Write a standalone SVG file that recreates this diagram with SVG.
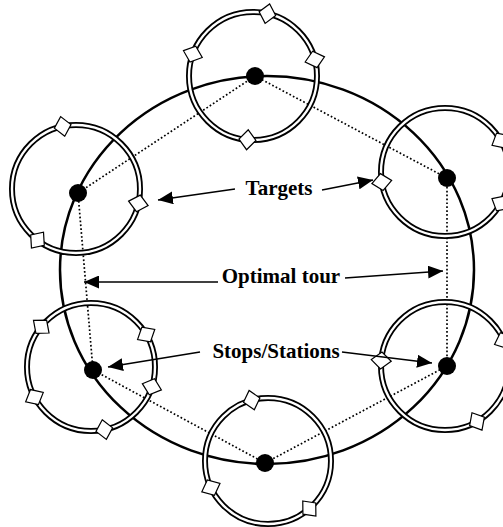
<svg xmlns="http://www.w3.org/2000/svg" width="503" height="527" viewBox="0 0 503 527">
<style>
.tour{fill:none;stroke:#000;stroke-width:2.5}
.hop{fill:none;stroke:#000;stroke-width:1.7;stroke-dasharray:1.7 2.2}
.arr{fill:none;stroke:#000;stroke-width:1.5}
.ringo{fill:none;stroke:#000;stroke-width:6}
.ringi{fill:none;stroke:#fff;stroke-width:2.4}
.dot{fill:#000}
.dia{fill:#fff;stroke:#000;stroke-width:1.2}
.lbl{font-family:"Liberation Serif","Times New Roman",serif;font-weight:bold;font-size:21px;fill:#000;text-anchor:middle}
</style>
<defs>
<marker id="ah" markerUnits="userSpaceOnUse" markerWidth="16" markerHeight="13" refX="15" refY="6.5" orient="auto">
<path d="M0,0 L15,6.5 L0,13 z" fill="#000"/>
</marker>
<polygon id="d" class="dia" points="-10,0 0,-8.5 10,0 0,8.5"/>
</defs>
<rect width="503" height="527" fill="#fff"/>
<g id="connectors">
<ellipse class="tour" cx="267" cy="270" rx="207" ry="194"/>
<polygon class="hop" points="255,76 447,178 447,366 265,463 93,370 78,193"/>
</g>
<g id="n-top">
<circle class="ringo" cx="253" cy="76" r="64"/><circle class="ringi" cx="253" cy="76" r="64"/>
<use href="#d" transform="translate(253,76) rotate(-77) translate(64,0)"/>
<use href="#d" transform="translate(253,76) rotate(-160) translate(64,0)"/>
<use href="#d" transform="translate(253,76) rotate(-15) translate(64,0)"/>
<use href="#d" transform="translate(253,76) rotate(95) translate(64,0)"/>
<circle class="dot" cx="255" cy="76" r="9"/>
</g>
<g id="n-left">
<circle class="ringo" cx="76" cy="189" r="64"/><circle class="ringi" cx="76" cy="189" r="64"/>
<use href="#d" transform="translate(76,189) rotate(-102) translate(64,0)"/>
<use href="#d" transform="translate(76,189) rotate(13) translate(64,0)"/>
<use href="#d" transform="translate(76,189) rotate(127) translate(64,0)"/>
<circle class="dot" cx="78" cy="193" r="9"/>
</g>
<g id="n-right">
<circle class="ringo" cx="445" cy="172" r="64"/><circle class="ringi" cx="445" cy="172" r="64"/>
<use href="#d" transform="translate(445,172) rotate(-29.5) translate(64,0)"/>
<use href="#d" transform="translate(445,172) rotate(29.5) translate(64,0)"/>
<use href="#d" transform="translate(445,172) rotate(171) translate(64,0)"/>
<circle class="dot" cx="447" cy="178" r="9"/>
</g>
<g id="n-lowleft">
<circle class="ringo" cx="91" cy="367" r="64"/><circle class="ringi" cx="91" cy="367" r="64"/>
<use href="#d" transform="translate(91,367) rotate(-141) translate(64,0)"/>
<use href="#d" transform="translate(91,367) rotate(-30.5) translate(64,0)"/>
<use href="#d" transform="translate(91,367) rotate(18) translate(64,0)"/>
<use href="#d" transform="translate(91,367) rotate(152) translate(64,0)"/>
<use href="#d" transform="translate(91,367) rotate(78) translate(64,0)"/>
<circle class="dot" cx="93" cy="370" r="9"/>
</g>
<g id="n-lowright">
<circle class="ringo" cx="445" cy="366" r="64"/><circle class="ringi" cx="445" cy="366" r="64"/>
<use href="#d" transform="translate(445,366) rotate(-23.5) translate(64,0)"/>
<use href="#d" transform="translate(445,366) rotate(-175) translate(64,0)"/>
<use href="#d" transform="translate(445,366) rotate(60) translate(64,0)"/>
<circle class="dot" cx="447" cy="366" r="9"/>
</g>
<g id="n-bottom">
<circle class="ringo" cx="268" cy="461" r="63"/><circle class="ringi" cx="268" cy="461" r="63"/>
<use href="#d" transform="translate(268,461) rotate(-105) translate(63,0)"/>
<use href="#d" transform="translate(268,461) rotate(155) translate(63,0)"/>
<use href="#d" transform="translate(268,461) rotate(49) translate(63,0)"/>
<circle class="dot" cx="265" cy="463" r="9"/>
</g>
<g id="labels">
<line class="arr" x1="235" y1="189" x2="158" y2="200" marker-end="url(#ah)"/>
<line class="arr" x1="322" y1="190" x2="373" y2="180" marker-end="url(#ah)"/>
<text class="lbl" x="279" y="195">Targets</text>
<line class="arr" x1="218" y1="282" x2="84" y2="282" marker-end="url(#ah)"/>
<line class="arr" x1="345" y1="278" x2="443" y2="271" marker-end="url(#ah)"/>
<text class="lbl" x="281" y="283">Optimal tour</text>
<line class="arr" x1="200" y1="352" x2="108" y2="367" marker-end="url(#ah)"/>
<line class="arr" x1="342" y1="352" x2="432" y2="363" marker-end="url(#ah)"/>
<text class="lbl" x="276" y="358">Stops/Stations</text>
</g>
</svg>
